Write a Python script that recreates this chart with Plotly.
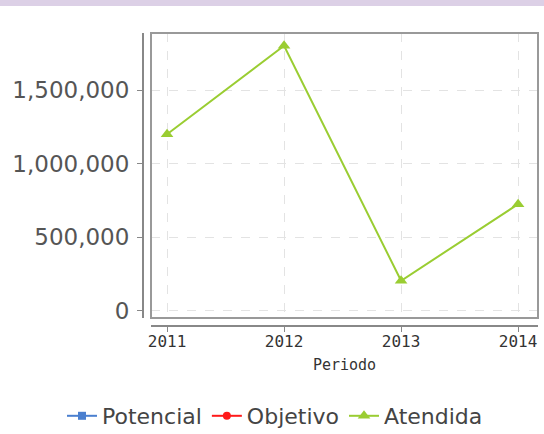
import plotly.graph_objects as go

periodos = [2011, 2012, 2013, 2014]
potencial = [None, None, None, None]
objetivo = [None, None, None, None]
atendida = [1200000, 1800000, 205000, 725000]

W, H = 544, 434
L, R, T, B = 143, 6, 33, 108
pw, ph = W - L - R, H - T - B
x0 = 8 / pw
y0 = 8 / ph

fig = go.Figure()
fig.add_trace(go.Scatter(x=periodos, y=potencial, name="Potencial", mode="lines+markers",
                         line=dict(color="#4a7fcf", width=2), marker=dict(symbol="square", size=8)))
fig.add_trace(go.Scatter(x=periodos, y=objetivo, name="Objetivo", mode="lines+markers",
                         line=dict(color="#ff1a1a", width=2), marker=dict(symbol="circle", size=8)))
fig.add_trace(go.Scatter(x=periodos, y=atendida, name="Atendida", mode="lines+markers",
                         line=dict(color="#9acd32", width=2), marker=dict(symbol="triangle-up", size=11)))

fig.update_layout(
    width=W, height=H,
    margin=dict(l=L, r=R, t=T, b=B, autoexpand=False),
    paper_bgcolor="white", plot_bgcolor="white",
    showlegend=True,
    legend=dict(orientation="h", x=(62 - L) / pw, xanchor="left", y=-(395 - (H - B)) / ph, yanchor="top",
                font=dict(family="DejaVu Sans", size=22, color="#444"),
                itemwidth=30, tracegroupgap=0),
    xaxis=dict(domain=[x0, 1], range=[2010.863, 2014.17], anchor="free", position=0,
               automargin=False,
               tickvals=periodos, ticktext=[str(p) for p in periodos],
               showline=True, linecolor="#888", linewidth=2,
               ticks="outside", ticklen=5, tickcolor="#888",
               showgrid=True, gridcolor="#e3e3e3", griddash="dash", gridwidth=1,
               zeroline=False, ticklabelstandoff=-4,
               tickfont=dict(family="DejaVu Sans Mono", size=16, color="#333"),
               title=dict(text="Periodo", font=dict(family="DejaVu Sans Mono", size=15, color="#333"),
                          standoff=8)),
    yaxis=dict(domain=[y0, 1], range=[-48000, 1887000], anchor="free", position=0,
               automargin=False,
               tickvals=[0, 500000, 1000000, 1500000], tickformat=",",
               showline=True, linecolor="#888", linewidth=2,
               ticks="outside", ticklen=5, tickcolor="#888",
               showgrid=True, gridcolor="#e3e3e3", griddash="dash", gridwidth=1,
               zeroline=False, ticklabelstandoff=3,
               tickfont=dict(family="DejaVu Sans", size=23, color="#555")),
    shapes=[
        dict(type="rect", xref="paper", yref="paper", x0=x0, x1=1, y0=y0, y1=1,
             line=dict(color="#999", width=2), fillcolor="rgba(0,0,0,0)", layer="above"),
        dict(type="rect", xref="paper", yref="paper", x0=-L / pw, x1=1 + R / pw,
             y0=1 + (T - 6) / ph, y1=1 + T / ph,
             line=dict(width=0), fillcolor="#dcd0e6", layer="below"),
    ],
)

fig.write_html("out.html", config={"displayModeBar": False},
               post_script="document.body.style.margin='0';document.body.style.overflow='hidden';")
